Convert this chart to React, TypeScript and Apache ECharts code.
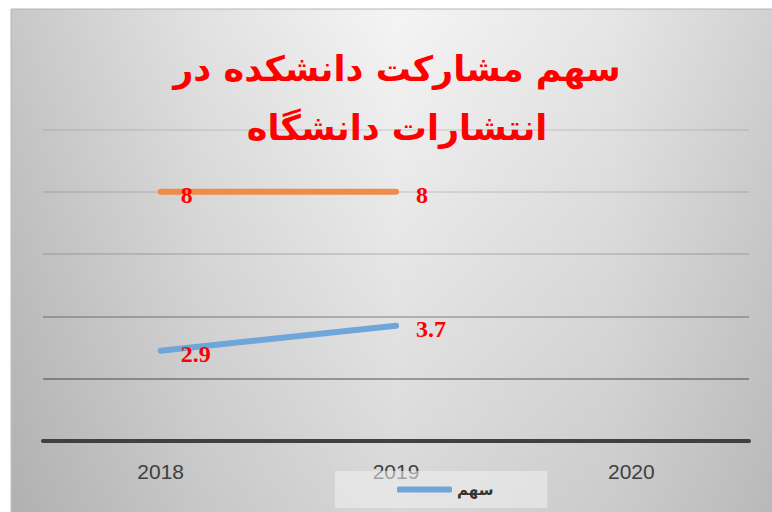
import React, { useEffect, useRef } from "react";
import * as echarts from "echarts";

const years = ["2018", "2019", "2020"];
const shareValues = [2.9, 3.7, null];
const otherValues = [8, 8, null];
const legendName = "سهم";
const otherName = "کل";
const titleLine1 = "سهم مشارکت دانشکده در";
const titleLine2 = "انتشارات دانشگاه";

export default function App() {
  const ref = useRef<HTMLDivElement>(null);
  useEffect(() => {
    if (!ref.current) return;
    const chart = echarts.init(ref.current, null, { renderer: "svg" });
    const labelStyle = {
      show: true,
      position: "right",
      distance: 20,
      offset: [0, 3],
      color: "#ff0000",
      fontSize: 24,
      fontWeight: "bold",
      fontFamily: "Liberation Serif, serif",
    };
    chart.setOption({
      animation: false,
      backgroundColor: "#ffffff",
      graphic: [
        {
          type: "rect",
          z: -10,
          silent: true,
          shape: { x: 11, y: 9, width: 770, height: 510 },
          style: {
            fill: {
              type: "linear",
              x: 0,
              y: 0,
              x2: 1,
              y2: 0,
              colorStops: [
                { offset: 0, color: "#c8c8c8" },
                { offset: 0.25, color: "#e2e2e2" },
                { offset: 0.5, color: "#f4f4f4" },
                { offset: 0.78, color: "#e6e6e6" },
                { offset: 1, color: "#d0d0d0" },
              ],
            },
            stroke: "#b4b4b4",
            lineWidth: 1,
          },
        },
        {
          type: "rect",
          z: -9,
          silent: true,
          shape: { x: 12, y: 10, width: 770, height: 510 },
          style: {
            fill: {
              type: "linear",
              x: 0,
              y: 0,
              x2: 0,
              y2: 1,
              colorStops: [
                { offset: 0, color: "rgba(0,0,0,0)" },
                { offset: 1, color: "rgba(0,0,0,0.12)" },
              ],
            },
          },
        },
        {
          type: "text",
          x: 397,
          y: 69,
          z: 10,
          style: {
            text: titleLine1,
            align: "center",
            verticalAlign: "middle",
            fill: "#ff0000",
            font: "bold 35px 'DejaVu Sans', sans-serif",
          },
        },
        {
          type: "text",
          x: 397,
          y: 128,
          z: 10,
          style: {
            text: titleLine2,
            align: "center",
            verticalAlign: "middle",
            fill: "#ff0000",
            font: "bold 35px 'DejaVu Sans', sans-serif",
          },
        },
      ],
      grid: { left: 43, right: 23, top: 129.5, bottom: 71, containLabel: false },
      legend: {
        data: [legendName],
        left: 335,
        top: 471,
        padding: [5, 54, 5, 62],
        backgroundColor: "rgba(240,240,240,0.55)",
        itemWidth: 55,
        itemHeight: 6,
        icon: "roundRect",
        itemGap: 4,
        textStyle: {
          color: "#333333",
          fontSize: 15,
          fontWeight: "bold",
          fontFamily: "'DejaVu Sans', sans-serif",
          lineHeight: 16,
          padding: [11, 0, 0, 0],
        },
      },
      xAxis: {
        type: "category",
        data: years,
        boundaryGap: true,
        axisTick: { show: false },
        axisLine: { lineStyle: { color: "#404040", width: 4 } },
        axisLabel: {
          color: "#404040",
          fontSize: 21,
          margin: 20,
          fontFamily: "'Liberation Sans', sans-serif",
        },
      },
      yAxis: {
        type: "value",
        min: 0,
        max: 10,
        interval: 2,
        axisLabel: { show: false },
        axisLine: { show: false },
        axisTick: { show: false },
        splitLine: {
          lineStyle: {
            color: [
              "rgba(0,0,0,0.45)",
              "rgba(0,0,0,0.42)",
              "rgba(0,0,0,0.3)",
              "rgba(0,0,0,0.16)",
              "rgba(0,0,0,0.12)",
              "rgba(0,0,0,0.1)",
            ],
            width: 1.5,
          },
        },
      },
      series: [
        {
          name: otherName,
          type: "line",
          data: otherValues,
          symbol: "circle",
          symbolSize: 0.1,
          showSymbol: true,
          itemStyle: { color: "#ef8c4b" },
          lineStyle: { color: "#ef8c4b", width: 6, cap: "round" },
          label: labelStyle,
        },
        {
          name: legendName,
          type: "line",
          data: shareValues,
          symbol: "circle",
          symbolSize: 0.1,
          showSymbol: true,
          itemStyle: { color: "#6fa6da" },
          lineStyle: { color: "#6fa6da", width: 6, cap: "round" },
          label: labelStyle,
        },
      ],
    });
    return () => chart.dispose();
  }, []);
  return (
    <div
      ref={ref}
      style={{ position: "fixed", left: 0, top: 0, width: 772, height: 512 }}
    />
  );
}
